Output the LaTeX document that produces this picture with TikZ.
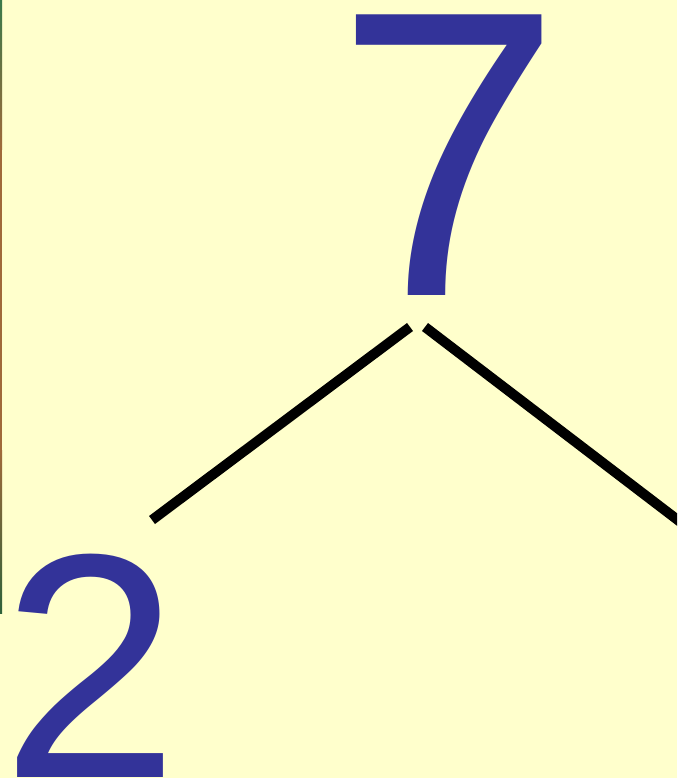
\documentclass[tikz,border=0pt]{standalone}
\usepackage{fontspec}
\setmainfont{Liberation Sans}
\definecolor{bg}{HTML}{FFFFCC}
\definecolor{numblue}{HTML}{333399}
\definecolor{stripgreen}{HTML}{3A7A4A}
\definecolor{stripbrown}{HTML}{A06A3A}
\begin{document}
\begin{tikzpicture}[x=1pt,y=-1pt,
  num/.style={inner sep=0pt, text=numblue, anchor=base},
  edge/.style={line width=10pt, black}]
\useasboundingbox (0,0) rectangle (677,778);
\fill[bg] (0,0) rectangle (677,778);
\shade[top color=stripgreen, bottom color=stripbrown] (0,0) rectangle (2,150);
\fill[stripbrown] (0,150) rectangle (2,450);
\shade[top color=stripbrown, bottom color=stripgreen!80!black] (0,450) rectangle (2,613);
\begin{scope}
\clip (0,0) rectangle (677,778);
\node[num, font=\fontsize{408}{410}\selectfont] (seven) at (449,295) {7};
\node[num, font=\fontsize{320}{322}\selectfont] (two) at (90,777) {2};
\coordinate (l1a) at (410,327);
\coordinate (l1b) at (152,520);
\coordinate (r1a) at (425,327);
\coordinate (r1b) at (700,537);
\draw[edge] (l1a) -- (l1b);
\draw[edge] (r1a) -- (r1b);
\end{scope}
\end{tikzpicture}
\end{document}
